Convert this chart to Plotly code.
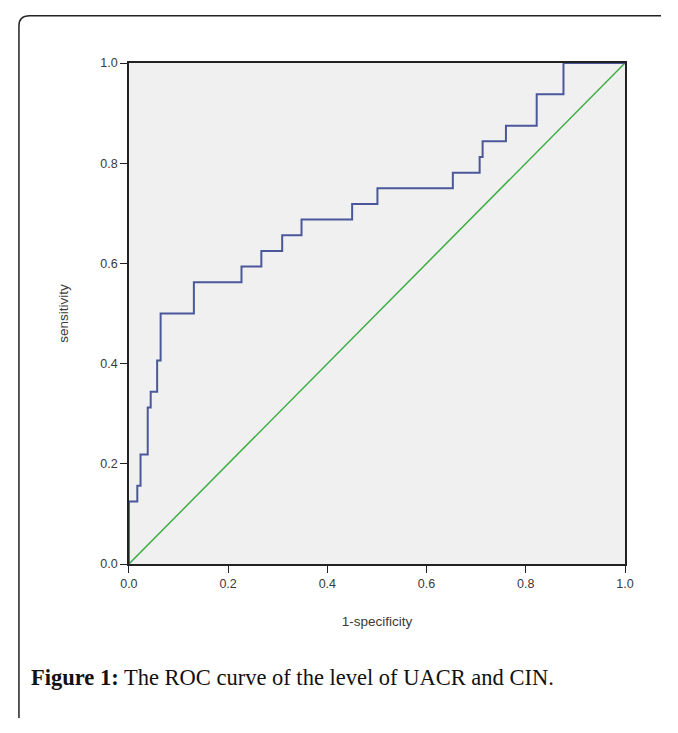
import plotly.graph_objects as go

fpr = [0, 0, 0.017, 0.0235, 0.038, 0.044, 0.057, 0.064, 0.131, 0.227, 0.267, 0.309,
       0.348, 0.450, 0.501, 0.653, 0.707, 0.713, 0.760, 0.822, 0.876, 1.0]
tpr = [0, 0.125, 0.15625, 0.21875, 0.3125, 0.34375, 0.40625, 0.5, 0.5625, 0.59375,
       0.625, 0.65625, 0.6875, 0.71875, 0.75, 0.78125, 0.8125, 0.84375, 0.875,
       0.9375, 1.0, 1.0]
ref_x = [0, 1]
ref_y = [0, 1]
tick_vals = [0.0, 0.2, 0.4, 0.6, 0.8, 1.0]
tick_text = ["0.0", "0.2", "0.4", "0.6", "0.8", "1.0"]

# page has an 8px body margin; figure sized so page = 678x733
OFF = 8
W, H = 678 - 2 * OFF, 733 - 2 * OFF


def fx(px):
    return (px - OFF) / W


def fy(py):
    return 1 - (py - OFF) / H


fig = go.Figure()
fig.add_trace(go.Scatter(x=ref_x, y=ref_y, mode="lines",
                         line=dict(color="#3dae45", width=1.5), hoverinfo="skip"))
fig.add_trace(go.Scatter(x=fpr, y=tpr, mode="lines", line_shape="hv",
                         line=dict(color="#4a579a", width=2)))

tickfont = dict(family="Liberation Sans, Arial", size=12.5, color="#3a3a3a")
titlefont = dict(family="Liberation Sans, Arial", size=13.5, color="#3a3a3a")
fig.update_layout(
    width=W, height=H, margin=dict(l=0, r=0, t=0, b=0),
    paper_bgcolor="white", plot_bgcolor="#f0f0f0", showlegend=False,
    modebar=dict(bgcolor="rgba(0,0,0,0)", color="rgba(0,0,0,0)", activecolor="rgba(0,0,0,0)"),
    xaxis=dict(domain=[fx(123), fx(633)], range=[0, 1], tickvals=tick_vals, ticktext=tick_text,
               showgrid=False, zeroline=False, showline=True, linecolor="#222222", linewidth=1.5,
               mirror=True, ticks="outside", ticklen=7, tickcolor="#222222", tickfont=tickfont,
               title=dict(text="1-specificity", font=titlefont, standoff=27)),
    yaxis=dict(domain=[fy(568), fy(57)], range=[0, 1], tickvals=tick_vals, ticktext=tick_text,
               showgrid=False, zeroline=False, showline=True, linecolor="#222222", linewidth=1.5,
               mirror=True, ticks="outside", ticklen=7, tickcolor="#222222", tickfont=tickfont,
               title=dict(text="sensitivity", font=titlefont, standoff=28)),
    shapes=[dict(type="path", xref="paper", yref="paper",
                 path=f"M {fx(10)} 0 L {fx(10)} {fy(19)} Q {fx(10)} {fy(8.8)} {fx(21)} {fy(8.8)} L 1 {fy(8.8)}",
                 line=dict(color="#222222", width=1.5))],
    annotations=[dict(xref="paper", yref="paper", x=fx(20), y=fy(684), xanchor="left",
                      yanchor="middle", showarrow=False,
                      text="<b>Figure 1:</b> The ROC curve of the level of UACR and CIN.",
                      font=dict(family="Liberation Serif, Times New Roman", size=22.5, color="#111111"))],
)
fig.write_html("out.html")
